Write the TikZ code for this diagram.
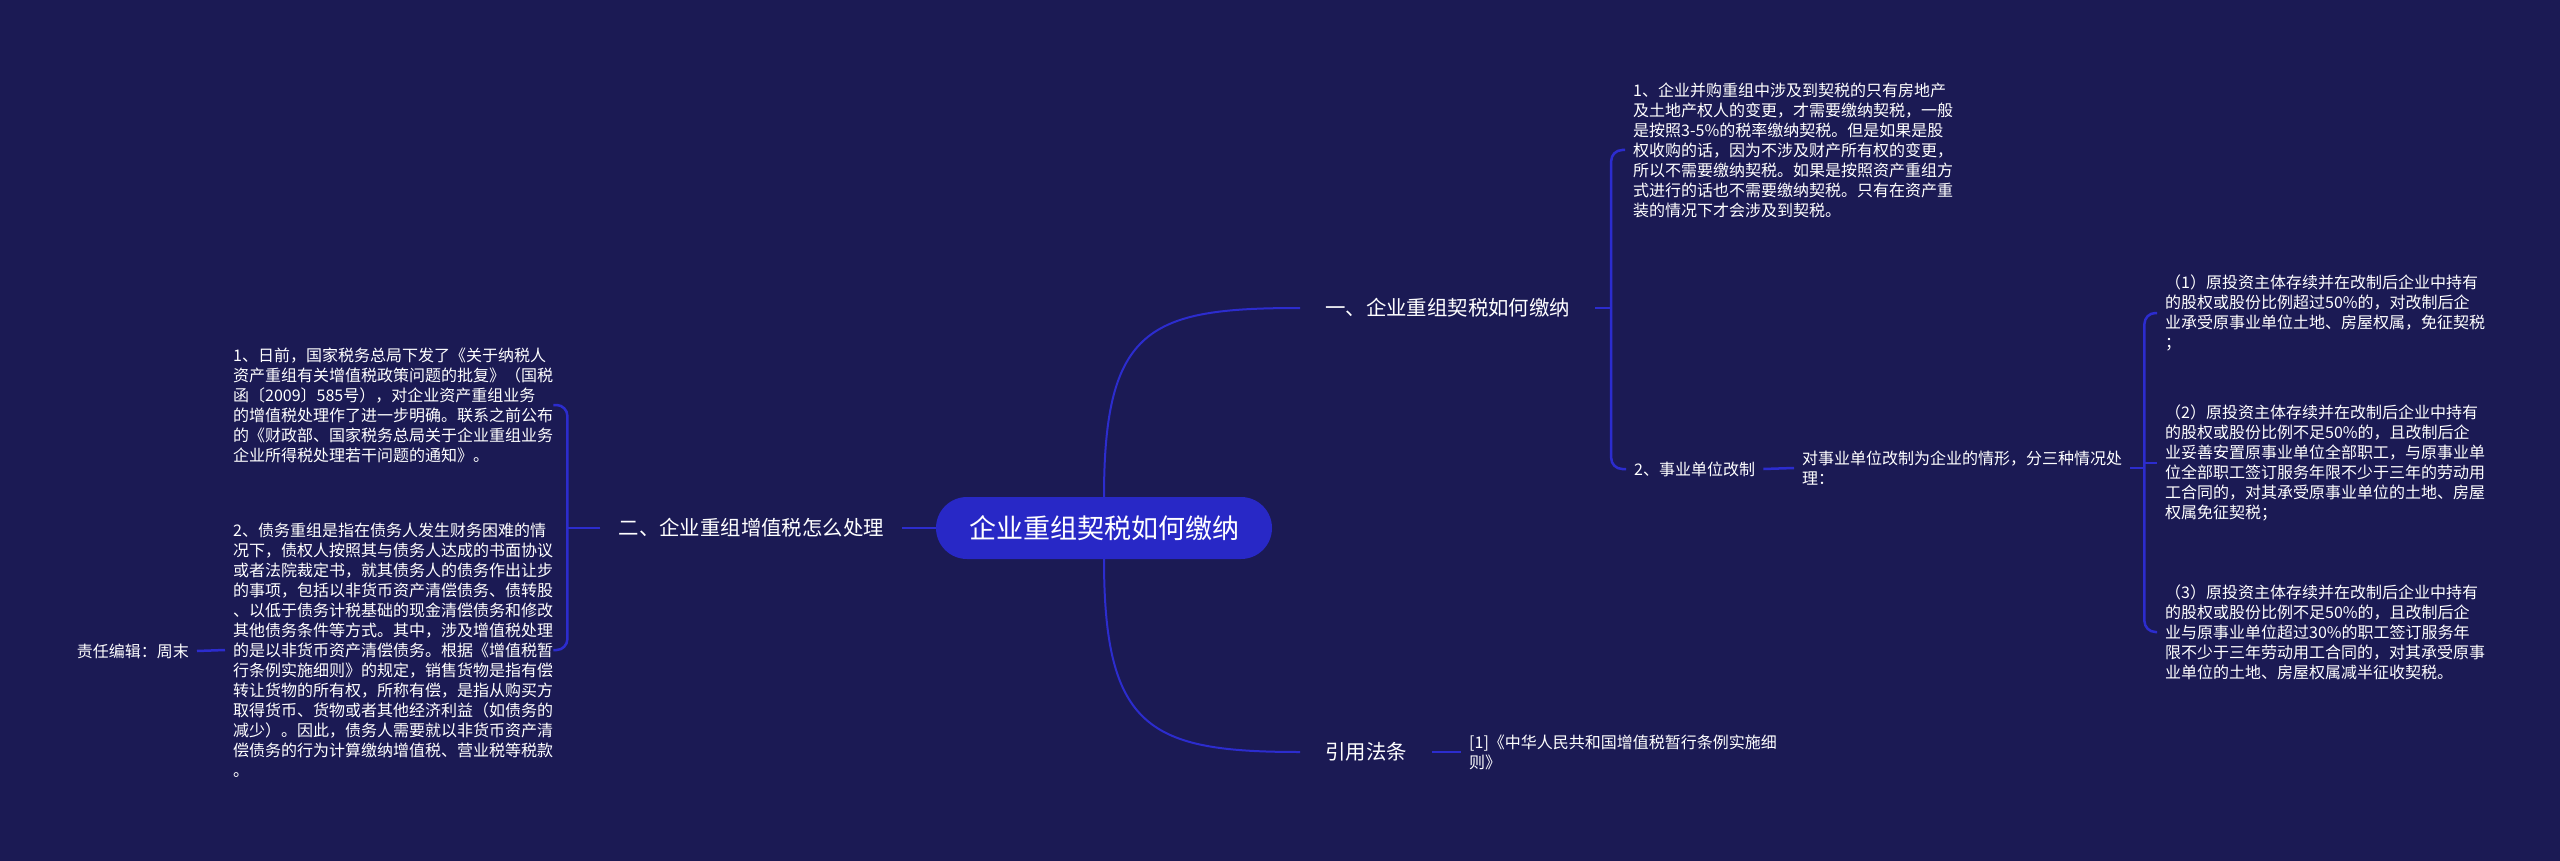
\documentclass[tikz,border=0pt]{standalone}
\usepackage{fontspec}
\newfontfamily\cjk{Noto Sans CJK SC}
\definecolor{bg}{RGB}{27,26,84}
\definecolor{link}{RGB}{44,44,206}
\definecolor{rootfill}{RGB}{40,40,198}
\begin{document}
\begin{tikzpicture}[x=1pt,y=-1pt,
  leaf/.style={text=white, align=left, inner xsep=8pt, inner ysep=0pt, font=\cjk\fontsize{16}{20}\selectfont},
  branch/.style={text=white, inner xsep=25pt, inner ysep=2pt, font=\cjk\fontsize{20.4}{24}\selectfont},
  rootnode/.style={fill=rootfill, text=white, rounded corners=31pt, minimum width=336pt, minimum height=62pt, inner sep=0pt, font=\cjk\fontsize{27}{32}\selectfont},
  curve/.style={draw=link, line width=2pt},
  conn/.style={draw=link, line width=2.5pt, rounded corners=11pt},
]
\fill[bg] (0,0) rectangle (2560,861);
\useasboundingbox (0,0) rectangle (2560,861);

\node[rootnode] (root) at (1104,528) {企业重组契税如何缴纳};
\node[branch, anchor=west] (b1) at (1300,308) {一、企业重组契税如何缴纳};
\node[branch, anchor=east, inner xsep=18pt] (b2) at (902,528) {二、企业重组增值税怎么处理};
\node[branch, anchor=west] (b3) at (1300,752) {引用法条};

\node[leaf, anchor=west] (r1) at (1625,150) {1、企业并购重组中涉及到契税的只有房地产\\
及土地产权人的变更，才需要缴纳契税，一般\\
是按照3-5\%的税率缴纳契税。但是如果是股\\
权收购的话，因为不涉及财产所有权的变更，\\
所以不需要缴纳契税。如果是按照资产重组方\\
式进行的话也不需要缴纳契税。只有在资产重\\
装的情况下才会涉及到契税。};
\node[leaf, anchor=west] (r2) at (1626,469) {2、事业单位改制};
\node[leaf, anchor=west] (r3) at (1794,468) {对事业单位改制为企业的情形，分三种情况处\\
理：};
\node[leaf, anchor=west] (s1) at (2157,313) {（1）原投资主体存续并在改制后企业中持有\\
的股权或股份比例超过50\%的，对改制后企\\
业承受原事业单位土地、房屋权属，免征契税\\
；};
\node[leaf, anchor=west] (s2) at (2157,463) {（2）原投资主体存续并在改制后企业中持有\\
的股权或股份比例不足50\%的，且改制后企\\
业妥善安置原事业单位全部职工，与原事业单\\
位全部职工签订服务年限不少于三年的劳动用\\
工合同的，对其承受原事业单位的土地、房屋\\
权属免征契税；};
\node[leaf, anchor=west] (s3) at (2157,632) {（3）原投资主体存续并在改制后企业中持有\\
的股权或股份比例不足50\%的，且改制后企\\
业与原事业单位超过30\%的职工签订服务年\\
限不少于三年劳动用工合同的，对其承受原事\\
业单位的土地、房屋权属减半征收契税。};
\node[leaf, anchor=west] (ref) at (1461,752) {[1]《中华人民共和国增值税暂行条例实施细\\
则》};

\node[leaf, anchor=west, inner xsep=0pt] (l1) at (233,405) {1、日前，国家税务总局下发了《关于纳税人\\
资产重组有关增值税政策问题的批复》（国税\\
函〔2009〕585号），对企业资产重组业务\\
的增值税处理作了进一步明确。联系之前公布\\
的《财政部、国家税务总局关于企业重组业务\\
企业所得税处理若干问题的通知》。};
\node[leaf, anchor=west, inner xsep=0pt] (l2) at (233,650) {2、债务重组是指在债务人发生财务困难的情\\
况下，债权人按照其与债务人达成的书面协议\\
或者法院裁定书，就其债务人的债务作出让步\\
的事项，包括以非货币资产清偿债务、债转股\\
、以低于债务计税基础的现金清偿债务和修改\\
其他债务条件等方式。其中，涉及增值税处理\\
的是以非货币资产清偿债务。根据《增值税暂\\
行条例实施细则》的规定，销售货物是指有偿\\
转让货物的所有权，所称有偿，是指从购买方\\
取得货币、货物或者其他经济利益（如债务的\\
减少）。因此，债务人需要就以非货币资产清\\
偿债务的行为计算缴纳增值税、营业税等税款\\
。};
\node[leaf, anchor=east] (ed) at (197,651) {责任编辑：周末};

% connectors
\draw[curve] (root.north) .. controls +(0,-170) and +(-150,0) .. (b1.west);
\draw[curve] (root.south) .. controls +(0,170) and +(-150,0) .. (b3.west);
\draw[conn] (root.west) -- (b2.east);

\coordinate (j1) at ([xshift=16pt]b1.east);
\draw[conn] (b1.east) -- (j1);
\draw[conn] (r1.west) -| (j1) |- (r2.west);
\draw[conn] (r2.east) -- (r3.west);

\coordinate (j2) at ([xshift=14pt]r3.east);
\draw[conn] (r3.east) -- (j2);
\draw[conn] (s1.west) -| (j2) |- (s3.west);
\draw[conn] (s2.west -| j2) -- (s2.west);

\draw[conn] (b3.east) -- (ref.west);

\coordinate (j3) at ([xshift=-33pt]b2.west);
\draw[conn] (b2.west) -- (j3);
\draw[conn] (l1.east) -| (j3) |- (l2.east);
\draw[conn] (ed.east) -- ([xshift=-8pt]l2.west);
\end{tikzpicture}
\end{document}
